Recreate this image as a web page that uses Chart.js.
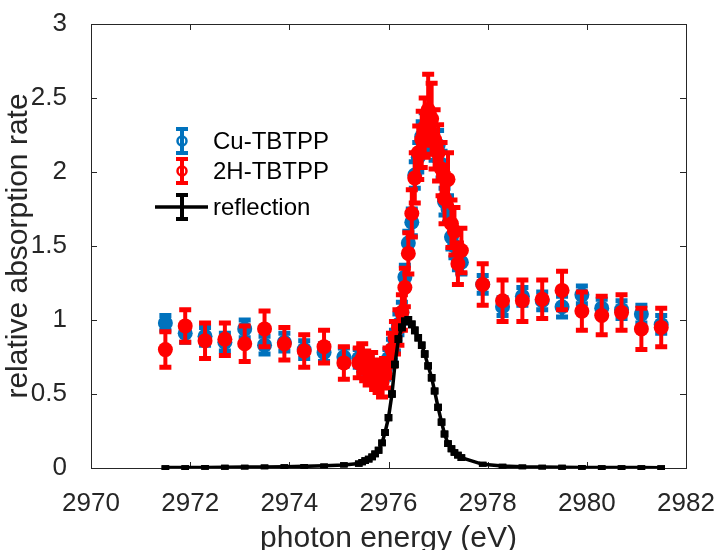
<!DOCTYPE html>
<html><head><meta charset="utf-8">
<script src="https://cdn.jsdelivr.net/npm/chart.js@4"></script>
<style>html,body{margin:0;padding:0;background:#fff}canvas{display:block}</style>
</head><body>
<canvas id="c" width="715" height="550"></canvas>
<script>
// photon energy (eV)
const energy = [
  2971.5, 2971.9, 2972.3, 2972.7, 2973.1, 2973.5, 2973.9, 2974.3, 2974.7, 2975.1,
  2975.40, 2975.47, 2975.53, 2975.60, 2975.67, 2975.73, 2975.80, 2975.87, 2975.93, 2976.00,
  2976.07, 2976.13, 2976.20, 2976.27, 2976.33, 2976.40, 2976.47, 2976.53, 2976.60, 2976.67,
  2976.73, 2976.80, 2976.87, 2976.93, 2977.00, 2977.07, 2977.13, 2977.20, 2977.27, 2977.33,
  2977.40, 2977.47,
  2977.9, 2978.3, 2978.7, 2979.1, 2979.5, 2979.9, 2980.3, 2980.7, 2981.1, 2981.5
];
const cuTBTPP = [
  0.98, 0.91, 0.89, 0.85, 0.94, 0.83, 0.85, 0.80, 0.78, 0.75,
  0.74, 0.72, 0.70, 0.69, 0.66, 0.64, 0.63, 0.62, 0.66, 0.74,
  0.80, 0.86, 0.97, 1.05, 1.29, 1.52, 1.66, 1.98, 2.10, 2.24,
  2.30, 2.28, 2.25, 2.18, 2.18, 2.05, 1.80, 1.75, 1.56, 1.50,
  1.42, 1.39,
  1.24, 1.09, 1.16, 1.13, 1.09, 1.17, 1.08, 1.07, 1.04, 0.97
];
const cuErr = [
  0.05, 0.06, 0.06, 0.06, 0.06, 0.06, 0.06, 0.06, 0.06, 0.06,
  0.06, 0.06, 0.06, 0.06, 0.06, 0.06, 0.06, 0.06, 0.06, 0.06,
  0.07, 0.07, 0.07, 0.07, 0.08, 0.08, 0.09, 0.09, 0.10, 0.10,
  0.10, 0.10, 0.10, 0.10, 0.10, 0.09, 0.09, 0.09, 0.08, 0.08,
  0.08, 0.08,
  0.06, 0.06, 0.06, 0.06, 0.07, 0.06, 0.06, 0.06, 0.06, 0.06
];
const h2TBTPP = [
  0.80, 0.96, 0.86, 0.87, 0.84, 0.94, 0.84, 0.79, 0.82, 0.71,
  0.71, 0.74, 0.69, 0.66, 0.68, 0.63, 0.61, 0.58, 0.64, 0.71,
  0.80, 0.88, 0.95, 1.05, 1.22, 1.45, 1.72, 1.96, 2.13, 2.22,
  2.30, 2.42, 2.36, 2.22, 2.13, 2.02, 1.82, 1.95, 1.65, 1.60,
  1.38, 1.47,
  1.24, 1.13, 1.13, 1.14, 1.20, 1.06, 1.03, 1.05, 0.94, 0.95
];
const h2Err = [
  0.12, 0.11, 0.12, 0.11, 0.12, 0.12, 0.11, 0.11, 0.11, 0.11,
  0.10, 0.10, 0.10, 0.10, 0.10, 0.10, 0.10, 0.10, 0.10, 0.10,
  0.11, 0.11, 0.12, 0.12, 0.13, 0.14, 0.16, 0.17, 0.18, 0.19,
  0.20, 0.24, 0.24, 0.20, 0.19, 0.18, 0.17, 0.18, 0.16, 0.16,
  0.14, 0.15,
  0.14, 0.14, 0.14, 0.13, 0.13, 0.13, 0.13, 0.12, 0.14, 0.13
];
const reflection = [
  0.003, 0.003, 0.004, 0.005, 0.006, 0.007, 0.009, 0.011, 0.015, 0.021,
  0.03, 0.04, 0.05, 0.06, 0.075, 0.095, 0.12, 0.17, 0.24, 0.34,
  0.50, 0.70, 0.87, 0.95, 0.99, 1.00, 0.97, 0.93, 0.88, 0.83,
  0.77, 0.69, 0.61, 0.52, 0.41, 0.31, 0.23, 0.165, 0.13, 0.105,
  0.087, 0.07,
  0.025, 0.013, 0.008, 0.006, 0.005, 0.004, 0.003, 0.003, 0.003, 0.002
];
const reflErr = [
  0.001, 0.001, 0.001, 0.001, 0.001, 0.001, 0.001, 0.001, 0.001, 0.002,
  0.006, 0.006, 0.007, 0.007, 0.007, 0.008, 0.008, 0.008, 0.009, 0.009,
  0.010, 0.010, 0.011, 0.011, 0.011, 0.011, 0.011, 0.011, 0.010, 0.010,
  0.010, 0.010, 0.010, 0.009, 0.009, 0.009, 0.008, 0.008, 0.008, 0.007,
  0.007, 0.007,
  0.002, 0.001, 0.001, 0.001, 0.001, 0.001, 0.001, 0.001, 0.001, 0.001
];
const seriesNames = ['Cu-TBTPP', '2H-TBTPP', 'reflection'];
const xTicks = [2970, 2972, 2974, 2976, 2978, 2980, 2982];
const yTicks = [0, 0.5, 1, 1.5, 2, 2.5, 3];
const yTickLabels = ['0', '0.5', '1', '1.5', '2', '2.5', '3'];
const xTitle = 'photon energy (eV)';
const yTitle = 'relative absorption rate';

const BLUE = '#0072BD', RED = '#FF0000', BLACK = '#000000', AXIS = '#262626';
const FONT = "'Liberation Sans', Arial, sans-serif";

const pts = (ys) => energy.map((e, i) => ({x: e, y: ys[i]}));

// error bars drawn through the chart's own scales, before each dataset
const errorBarPlugin = {
  id: 'errorBars',
  beforeDatasetDraw(chart, args) {
    const ds = chart.data.datasets[args.index];
    if (!ds.errors) return;
    const {ctx, scales: {x, y}} = chart;
    const st = ds.errStyle;
    ctx.save();
    ctx.strokeStyle = ds.borderColor;
    ds.data.forEach((p, i) => {
      const e = ds.errors[i];
      const px = x.getPixelForValue(p.x);
      const yt = y.getPixelForValue(p.y + e);
      const yb = y.getPixelForValue(p.y - e);
      ctx.lineWidth = st.bar;
      ctx.beginPath(); ctx.moveTo(px, yt); ctx.lineTo(px, yb); ctx.stroke();
      ctx.lineWidth = st.capT;
      ctx.beginPath();
      ctx.moveTo(px - st.capW, yt); ctx.lineTo(px + st.capW, yt);
      ctx.moveTo(px - st.capW, yb); ctx.lineTo(px + st.capW, yb);
      ctx.stroke();
    });
    ctx.restore();
  },
  afterDatasetDraw(chart, args) {
    const ds = chart.data.datasets[args.index];
    if (!ds.errors || !ds.capsOnTop) return;
    const {ctx, scales: {x, y}} = chart;
    const st = ds.errStyle;
    ctx.save();
    ctx.strokeStyle = ds.borderColor;
    ctx.lineWidth = st.capT;
    ctx.beginPath();
    ds.data.forEach((p, i) => {
      const e = ds.errors[i];
      const px = x.getPixelForValue(p.x);
      const yt = y.getPixelForValue(p.y + e);
      const yb = y.getPixelForValue(p.y - e);
      ctx.moveTo(px - st.capW, yt); ctx.lineTo(px + st.capW, yt);
      ctx.moveTo(px - st.capW, yb); ctx.lineTo(px + st.capW, yb);
    });
    ctx.stroke();
    ctx.restore();
  }
};

const framePlugin = {
  id: 'frame',
  beforeDatasetsDraw(chart) {
    const {ctx, chartArea: a, scales: {x, y}} = chart;
    ctx.save();
    ctx.strokeStyle = AXIS;
    ctx.lineWidth = 1;
    ctx.strokeRect(Math.round(a.left) + 0.5, Math.round(a.top) + 0.5,
                   Math.round(a.right - a.left), Math.round(a.bottom - a.top));
    ctx.beginPath();
    xTicks.forEach(v => {
      const px = Math.round(x.getPixelForValue(v)) + 0.5;
      ctx.moveTo(px, a.bottom); ctx.lineTo(px, a.bottom - 6);
      ctx.moveTo(px, a.top); ctx.lineTo(px, a.top + 6);
    });
    yTicks.forEach(v => {
      const py = Math.round(y.getPixelForValue(v)) + 0.5;
      ctx.moveTo(a.left, py); ctx.lineTo(a.left + 6, py);
      ctx.moveTo(a.right, py); ctx.lineTo(a.right - 6, py);
    });
    ctx.stroke();
    ctx.restore();
  }
};

const legendPlugin = {
  id: 'mlLegend',
  afterDraw(chart) {
    const {ctx} = chart;
    const sx = 182, tx = 213;
    const rows = [141, 171, 207];
    const colors = [BLUE, RED, BLACK];
    ctx.save();
    rows.forEach((ry, i) => {
      ctx.strokeStyle = colors[i];
      if (i === 2) {
        ctx.lineWidth = 3.5;
        ctx.beginPath(); ctx.moveTo(155, ry); ctx.lineTo(208, ry); ctx.stroke();
      }
      ctx.lineWidth = 4;
      ctx.beginPath(); ctx.moveTo(sx, ry - 12); ctx.lineTo(sx, ry + 12); ctx.stroke();
      ctx.beginPath();
      ctx.moveTo(sx - 6, ry - 12); ctx.lineTo(sx + 6, ry - 12);
      ctx.moveTo(sx - 6, ry + 12); ctx.lineTo(sx + 6, ry + 12);
      ctx.stroke();
      if (i < 2) {
        ctx.lineWidth = 2.5;
        ctx.beginPath(); ctx.arc(sx, ry, 4.5, 0, Math.PI * 2); ctx.stroke();
      }
      ctx.fillStyle = '#000';
      ctx.font = '24px ' + FONT;
      ctx.textBaseline = 'middle';
      ctx.textAlign = 'left';
      ctx.fillText(seriesNames[i], tx, ry + 1);
    });
    ctx.restore();
  }
};

new Chart(document.getElementById('c'), {
  type: 'scatter',
  data: {
    datasets: [
      {label: seriesNames[0], data: pts(cuTBTPP), errors: cuErr, order: 3,
       errStyle: {bar: 4, capT: 5, capW: 6},
       borderColor: BLUE, backgroundColor: BLUE, pointRadius: 7.5, pointBorderWidth: 0,
       showLine: false},
      {label: seriesNames[1], data: pts(h2TBTPP), errors: h2Err, order: 2,
       errStyle: {bar: 4, capT: 5, capW: 6},
       borderColor: RED, backgroundColor: RED, pointRadius: 7.5, pointBorderWidth: 0,
       showLine: false},
      {label: seriesNames[2], data: pts(reflection), errors: reflErr, capsOnTop: true, order: 1,
       errStyle: {bar: 3, capT: 4.5, capW: 3.8},
       borderColor: BLACK, backgroundColor: BLACK, showLine: true, borderWidth: 3.5,
       pointRadius: 0, tension: 0}
    ]
  },
  options: {
    responsive: false,
    devicePixelRatio: 1,
    animation: false,
    layout: {padding: {left: 0, right: 29, top: 24, bottom: 0}},
    plugins: {legend: {display: false}, tooltip: {enabled: false}},
    scales: {
      x: {
        type: 'linear', min: 2970, max: 2982,
        afterBuildTicks: s => { s.ticks = xTicks.map(v => ({value: v})); },
        afterFit: s => { s.height = 82; s.paddingLeft = 0; s.paddingRight = 0; },
        grid: {display: false}, border: {display: false},
        ticks: {color: AXIS, font: {family: FONT, size: 26}, padding: 12,
                maxRotation: 0, autoSkip: false,
                callback: v => String(v)},
        title: {display: true, text: xTitle, color: AXIS,
                font: {family: FONT, size: 30}, padding: {top: 0, bottom: -7}}
      },
      y: {
        type: 'linear', min: 0, max: 3,
        afterBuildTicks: s => { s.ticks = yTicks.map(v => ({value: v})); },
        afterFit: s => { s.width = 91; s.paddingTop = 0; s.paddingBottom = 0; },
        grid: {display: false}, border: {display: false},
        ticks: {color: AXIS, font: {family: FONT, size: 26}, padding: 16,
                autoSkip: false,
                callback: (v) => yTickLabels[yTicks.indexOf(v)]},
        title: {display: true, text: yTitle, color: AXIS,
                font: {family: FONT, size: 30}, padding: {top: 1, bottom: 0}}
      }
    }
  },
  plugins: [errorBarPlugin, framePlugin, legendPlugin]
});
</script>
</body></html>
